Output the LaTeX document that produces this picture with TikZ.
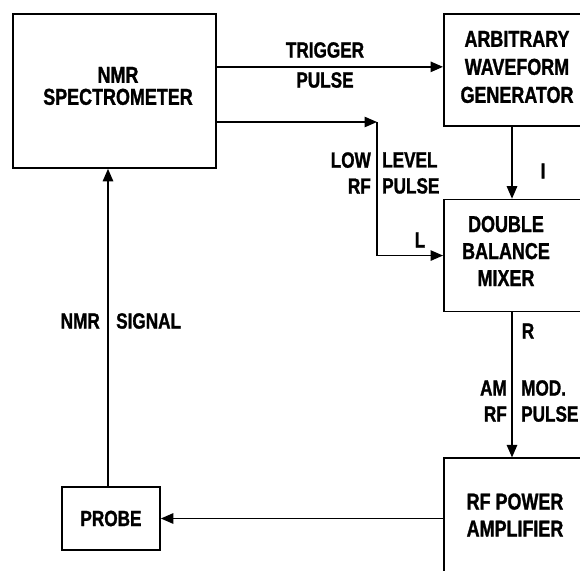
\documentclass[tikz,border=0pt]{standalone}
\usepackage{fontspec}
\setmainfont{Liberation Sans}[FakeStretch=0.78, BoldFeatures={FakeBold=1.2}]
\usetikzlibrary{arrows.meta,positioning}

\begin{document}
\begin{tikzpicture}[x=1pt, y=-1pt, every node/.style={font=\bfseries\fontsize{22}{26}\selectfont}, box/.style={draw, line width=1.7pt, inner sep=0pt, align=center}, boxtext/.style={align=center, inner sep=0pt, font=\bfseries\fontsize{23}{27}\selectfont}, lbl/.style={inner sep=0pt}, arrow/.style={-{Triangle[length=12.5pt,width=10.5pt]}, line width=1.3pt}]
\useasboundingbox (0,0) rectangle (580,570);
\clip (0,0) rectangle (580,570);
\node[box, minimum width=203pt, minimum height=154pt] (spec) at (114.5,91) {};
\node[boxtext, font=\bfseries\fontsize{23}{22}\selectfont] (spectext) at (118,86) {NMR\\SPECTROMETER};
\node[box, minimum width=170pt, minimum height=112pt, anchor=north west] (arb) at (443,13) {};
\node[boxtext, font=\bfseries\fontsize{23}{28}\selectfont] (arbtext) at (517,67) {ARBITRARY\\WAVEFORM\\GENERATOR};
\node[box, minimum width=170pt, minimum height=112pt, below=72pt of arb] (mixer) {};
\node[boxtext] (mixertext) at (506,251) {DOUBLE\\BALANCE\\MIXER};
\node[box, minimum width=170pt, minimum height=150pt, below=145pt of mixer] (amp) {};
\node[boxtext] (amptext) at (515,515) {RF POWER\\AMPLIFIER};
\node[box, minimum width=98pt, minimum height=63pt] (probe) at (111,518.5) {PROBE};
\coordinate (rfbend) at (377,122);
\coordinate (col) at (512,0);
\draw[arrow] ([yshift=3pt]arb.west -| spec.east) -- ([yshift=3pt]arb.west);
\draw[arrow] (spec.east |- rfbend) -- (rfbend);
\draw[arrow] (rfbend) -- (rfbend |- mixer.west) -- (mixer.west);
\draw[arrow] (arb.south -| col) -- (mixer.north -| col);
\draw[arrow] (mixer.south -| col) -- (amp.north -| col);
\draw[arrow] (amp.west |- probe.east) -- (probe.east);
\draw[arrow] ([xshift=-3pt]probe.north) -- ([xshift=-3pt]probe.north |- spec.south);
% signal names
\node[lbl] (trigger) at (325,50) {TRIGGER};
\node[lbl] (trigpulse) at (325,80) {PULSE};
\node[lbl, anchor=east, align=right] (lowrf) at (371,173) {LOW\\RF};
\node[lbl, anchor=west, align=left] (levelpulse) at (382,173) {LEVEL\\PULSE};
\node[lbl] (lport) at (420,240) {L};
\node[lbl] (iport) at (543,171) {I};
\node[lbl] (rport) at (528,331) {R};
\node[lbl, anchor=east, align=right] (amrf) at (507,401) {AM\\RF};
\node[lbl, anchor=west, align=left] (modpulse) at (521,401) {MOD.\\PULSE};
\node[lbl, anchor=east] (nmr) at (100,321) {NMR};
\node[lbl, anchor=west] (signal) at (116,321) {SIGNAL};
\end{tikzpicture}
\end{document}
